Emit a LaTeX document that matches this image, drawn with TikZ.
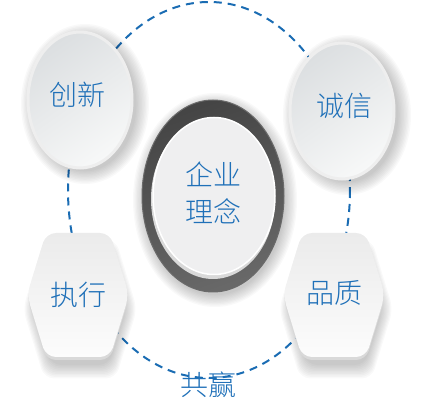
\documentclass[tikz,border=0pt]{standalone}
\usepackage{fontspec}
\newfontfamily\cjk{Noto Sans CJK SC Light}
\usetikzlibrary{shapes.geometric}
\definecolor{tblue}{HTML}{1F70B8}
\definecolor{dblue}{HTML}{1A6CB3}
\definecolor{ovA}{HTML}{DCDFE1}
\definecolor{ovB}{HTML}{F7F8F8}
\definecolor{rimc}{HTML}{EEEEEE}
\definecolor{ringA}{HTML}{454545}
\definecolor{ringB}{HTML}{686868}
\definecolor{innerc}{HTML}{EFEFF0}
\definecolor{hexA}{HTML}{EBEBEB}
\definecolor{hexB}{HTML}{FCFCFC}
\definecolor{lipc}{HTML}{D9D9D9}
\tikzset{
  txt/.style={text=tblue, font=\cjk\fontsize{28}{37}\selectfont, inner sep=0pt, align=center},
  oval/.style={ellipse, minimum width=104pt, minimum height=136pt, draw=rimc, line width=3pt,
    top color=ovA, bottom color=ovB, shading angle=35, inner sep=0pt},
  softsh/.style={fill=black, opacity=0.022},
}
\begin{document}
\begin{tikzpicture}[x=1pt,y=-1pt]
\useasboundingbox (0,0) rectangle (432,406);
% dashed orbit
\draw[dblue, line width=2pt, dash pattern=on 8pt off 6pt] (209,190) ellipse [x radius=141, y radius=188];
% shadows of ovals
\foreach \i in {1,...,10} {
  \fill[softsh] (85,104) ellipse [x radius=50+1.4*\i, y radius=66+1.4*\i];
  \fill[softsh] (347,115) ellipse [x radius=50+1.4*\i, y radius=66+1.4*\i];
  \fill[softsh] (215,200) ellipse [x radius=69+1.3*\i, y radius=94+1.3*\i];
}
% hexagons
\foreach \cx in {78,334} {
  \begin{scope}[shift={(\cx,295)}]
    \foreach \i in {1,...,10} {
      \fill[softsh, rounded corners=10pt, shift={(2,14)}, scale=0.88+0.024*\i]
        (-32,-62) -- (32,-62) -- (51,0) -- (32,62) -- (-32,62) -- (-51,0) -- cycle;
    }
    \fill[lipc, rounded corners=10pt, shift={(0,3)}]
      (-32,-62) -- (32,-62) -- (51,0) -- (32,62) -- (-32,62) -- (-51,0) -- cycle;
    \shade[top color=hexA, bottom color=hexB, rounded corners=10pt]
      (-32,-62) -- (32,-62) -- (51,0) -- (32,62) -- (-32,62) -- (-51,0) -- cycle;
  \end{scope}
}
% ovals
\node[oval] (cxo) at (80,100) {};
\node[oval] (cxi) at (342,111) {};
% centre ring
\node[ellipse, minimum width=142pt, minimum height=192pt, inner sep=0pt,
  left color=ringA, right color=ringB, shading angle=20, draw=ringA!80!white, line width=1pt] (ring) at (213,196) {};
\node[ellipse, minimum width=124pt, minimum height=160pt, inner sep=0pt, fill=lipc] (lip) at (213,199) {};
\node[ellipse, minimum width=122pt, minimum height=157pt, inner sep=0pt, fill=innerc, draw=white, line width=1.5pt] (core) at (214,196) {};
% texts
\node[txt] (t1) at (77,95) {创新};
\node[txt] (t2) at (344,106) {诚信};
\node[txt] (t3) at (78,295) {执行};
\node[txt] (t4) at (334,293) {品质};
\node[txt] (t5) at (213,193) {企业\\理念};
\node[txt] (t6) at (208,385) {共赢};
\end{tikzpicture}
\end{document}
